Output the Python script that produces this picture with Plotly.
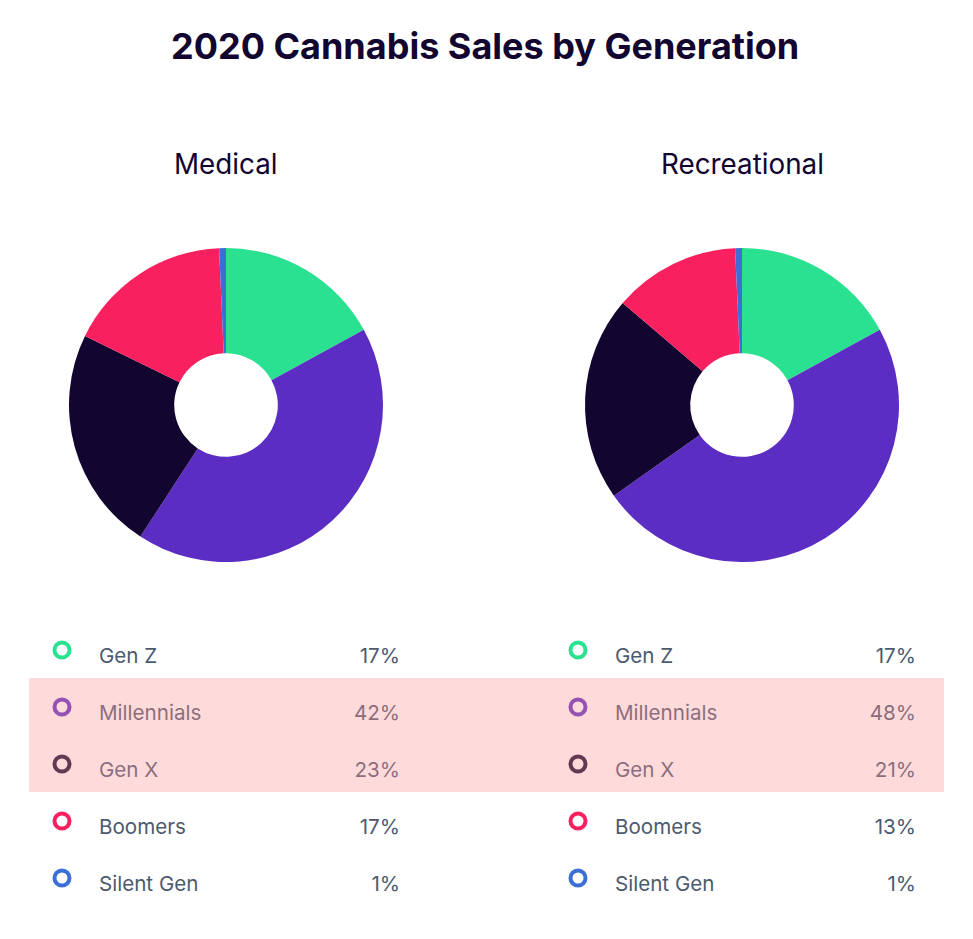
import plotly.graph_objects as go

W, H = 973, 939
FONT = "Inter"
INK = "#12052f"
TEXT = "#4c5a70"

categories = ["Gen Z", "Millennials", "Gen X", "Boomers", "Silent Gen"]
medical = [17, 42, 23, 17, 0.7]
recreational = [17, 48, 21, 13, 0.7]
colors = ["#2ae091", "#5c2dc3", "#12052f", "#f9205f", "#3b6fd8"]
panel_titles = ["Medical", "Recreational"]
main_title = "2020 Cannabis Sales by Generation"

# layout geometry, in pixels of the picture
PANELS = [
    dict(cx=226, ring=62, label=99, value=400),
    dict(cx=742, ring=578, label=615, value=916),
]
PIE_CY, PIE_R = 405, 157
RING0, TEXT0, ROWH = 650, 658, 57

fig = go.Figure()

for panel, values, name in zip(PANELS, [medical, recreational], panel_titles):
    fig.add_trace(go.Pie(
        labels=categories, values=values, name=name, sort=False,
        direction="clockwise", rotation=0, hole=0.33,
        textinfo="none", hoverinfo="label+percent", showlegend=False,
        marker=dict(colors=colors, line=dict(width=0)),
        domain=dict(
            x=[(panel["cx"] - PIE_R) / W, (panel["cx"] + PIE_R) / W],
            y=[1 - (PIE_CY + PIE_R) / H, 1 - (PIE_CY - PIE_R) / H],
        ),
    ))
    n = len(categories)
    fig.add_trace(go.Scatter(
        x=[panel["ring"]] * n, y=[RING0 + i * ROWH for i in range(n)], mode="markers",
        marker=dict(symbol="circle-open", size=15, color=colors, line=dict(width=4, color=colors)),
        showlegend=False, hoverinfo="skip",
    ))
    rows = [TEXT0 + i * ROWH for i in range(n)]
    fig.add_trace(go.Scatter(
        x=[panel["label"]] * n, y=rows, mode="text", text=categories,
        textposition="middle right", textfont=dict(family=FONT, size=20.6, color=TEXT),
        showlegend=False, hoverinfo="skip",
    ))
    fig.add_trace(go.Scatter(
        x=[panel["value"]] * n, y=rows, mode="text", text=[f"{v:.0f}%" for v in values],
        textposition="middle left", textfont=dict(family=FONT, size=20.6, color=TEXT),
        showlegend=False, hoverinfo="skip",
    ))
    fig.add_annotation(
        x=panel["cx"], y=164, xref="x", yref="y", text=name, showarrow=False,
        font=dict(family=FONT, size=27.8, color=INK),
    )

fig.add_annotation(
    x=484.5, y=46, xref="x", yref="y", text=f"<b>{main_title}</b>", showarrow=False,
    font=dict(family=FONT, size=36, color=INK),
)

fig.add_shape(
    type="rect", xref="x", yref="y", x0=29, x1=944, y0=678, y1=792,
    fillcolor="rgba(255,149,149,0.35)", line=dict(width=0), layer="above",
)

fig.update_layout(
    width=W, height=H, margin=dict(l=0, r=0, t=0, b=0),
    paper_bgcolor="white", plot_bgcolor="rgba(0,0,0,0)",
    xaxis=dict(range=[0, W], visible=False, fixedrange=True),
    yaxis=dict(range=[H, 0], visible=False, fixedrange=True),
)

fig.write_html("out.html", config={"displayModeBar": False},
               post_script="document.body.style.margin='0';")
